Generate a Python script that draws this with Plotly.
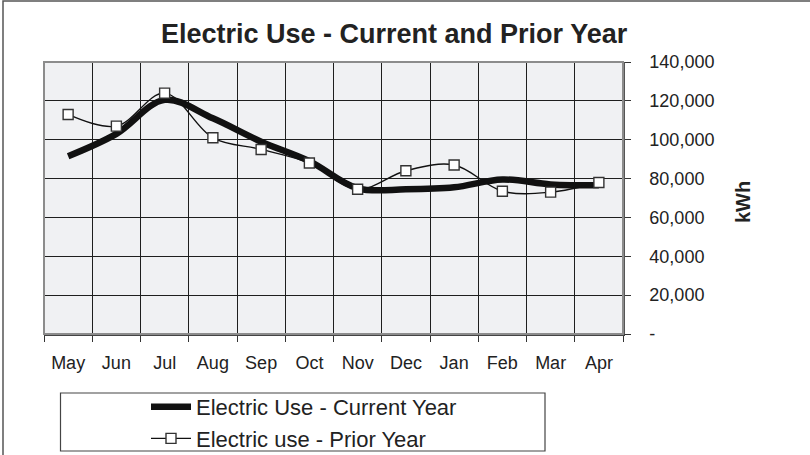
import plotly.graph_objects as go

# Monthly electricity consumption (kWh), fiscal year May-Apr
months = ["May", "Jun", "Jul", "Aug", "Sep", "Oct", "Nov", "Dec", "Jan", "Feb", "Mar", "Apr"]
current_year = [91500, 103000, 120500, 111000, 99000, 89000, 75000, 74500, 75500, 79500, 77000, 76500]
prior_year = [113000, 107000, 124000, 101000, 95000, 88000, 74500, 84000, 87000, 73500, 73000, 78000]

y_tick_values = [0, 20000, 40000, 60000, 80000, 100000, 120000, 140000]
y_tick_labels = ["-", "20,000", "40,000", "60,000", "80,000", "100,000", "120,000", "140,000"]

W, H = 810, 455
L, R, T, B = 44, 623, 62, 334  # plot area in pixels


def px_x(px):
    return (px - L) / (R - L)


def px_y(py):
    return (B - py) / (B - T)


FONT = "Liberation Sans, Arial, Helvetica, sans-serif"
INK = "#222222"

fig = go.Figure()

fig.add_trace(go.Scatter(
    x=months, y=current_year, name="Electric Use - Current Year",
    mode="lines",
    line=dict(color="#111111", width=6.5, shape="spline", smoothing=1.0),
))

fig.add_trace(go.Scatter(
    x=months, y=prior_year, name="Electric use - Prior Year",
    mode="lines+markers",
    line=dict(color="#111111", width=1.4, shape="spline", smoothing=1.0),
    marker=dict(symbol="square", size=10, color="white",
                line=dict(color="#333333", width=1.4)),
))

shapes = [
    # outer chart frame (top and left edges visible)
    dict(type="rect", xref="paper", yref="paper",
         x0=px_x(3), x1=px_x(W + 20), y0=px_y(H + 20), y1=px_y(1),
         line=dict(color="#555555", width=1.5), fillcolor="rgba(0,0,0,0)", layer="below"),
    # plot area frame
    dict(type="rect", xref="paper", yref="paper",
         x0=0, x1=1, y0=0, y1=1,
         line=dict(color="#8c8c8c", width=2), fillcolor="rgba(0,0,0,0)", layer="above"),
    # legend box
    dict(type="rect", xref="paper", yref="paper",
         x0=px_x(60.5), x1=px_x(545), y0=px_y(451), y1=px_y(393),
         line=dict(color="#444444", width=1.2), fillcolor="white", layer="below"),
]

annotations = [
    dict(text="<b>Electric Use - Current and Prior Year</b>", xref="paper", yref="paper",
         x=px_x(394), y=px_y(34), xanchor="center", yanchor="middle", showarrow=False,
         font=dict(family=FONT, size=27, color=INK)),
    dict(text="<b>kWh</b>", xref="paper", yref="paper",
         x=px_x(743), y=px_y(202), xanchor="center", yanchor="middle", showarrow=False,
         textangle=-90, font=dict(family=FONT, size=20, color=INK)),
]

fig.update_layout(
    width=W, height=H,
    margin=dict(l=L, r=W - R, t=T, b=H - B, pad=0, autoexpand=False),
    paper_bgcolor="white",
    plot_bgcolor="#f0f1f3",
    font=dict(family=FONT, size=18, color=INK),
    showlegend=True,
    legend=dict(
        x=px_x(304), y=px_y(423), xanchor="center", yanchor="middle",
        bgcolor="rgba(0,0,0,0)", borderwidth=0,
        font=dict(family=FONT, size=22, color=INK),
        itemwidth=40, tracegroupgap=0,
    ),
    shapes=shapes,
    annotations=annotations,
)

fig.update_xaxes(
    type="category", range=[-0.5, 11.5],
    tickson="boundaries", ticks="outside", ticklen=6, tickcolor="#333333",
    showgrid=True, gridcolor="#1e1e1e", gridwidth=1,
    showline=True, linecolor="#444444", linewidth=1.5,
    ticklabelstandoff=12,
    tickfont=dict(family=FONT, size=18, color=INK),
    fixedrange=True,
)

fig.update_yaxes(
    side="right", range=[0, 140000],
    tickvals=y_tick_values, ticktext=y_tick_labels,
    ticks="outside", ticklen=6, tickcolor="#333333",
    showgrid=True, gridcolor="#1e1e1e", gridwidth=1,
    showline=True, linecolor="#555555", linewidth=1.5,
    zeroline=False,
    ticklabelstandoff=15,
    tickfont=dict(family=FONT, size=18, color=INK),
    fixedrange=True,
)

fig.write_html("out.html")
